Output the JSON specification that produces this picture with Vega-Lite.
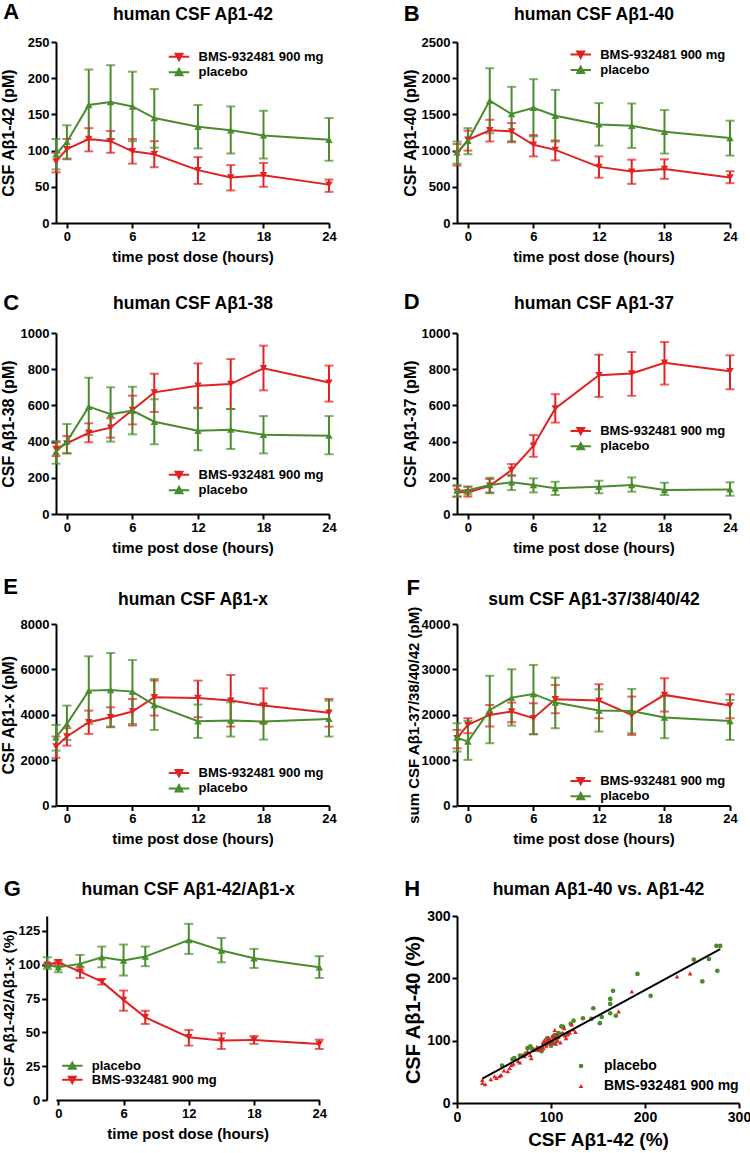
{
"$schema": "https://vega.github.io/schema/vega-lite/v6.json",
"padding": {"left": 0, "top": 0, "right": 5, "bottom": 5},
"background": "white",
"datasets": {
"ts": [
{"p":"A","g":"BMS-932481 900 mg","t":-1,"m":85,"lo":70,"hi":97},
{"p":"A","g":"BMS-932481 900 mg","t":0,"m":102,"lo":88,"hi":116},
{"p":"A","g":"BMS-932481 900 mg","t":2,"m":116,"lo":99,"hi":131},
{"p":"A","g":"BMS-932481 900 mg","t":4,"m":113,"lo":97,"hi":127},
{"p":"A","g":"BMS-932481 900 mg","t":6,"m":99,"lo":82,"hi":116},
{"p":"A","g":"BMS-932481 900 mg","t":8,"m":95,"lo":77,"hi":113},
{"p":"A","g":"BMS-932481 900 mg","t":12,"m":73,"lo":54,"hi":91},
{"p":"A","g":"BMS-932481 900 mg","t":15,"m":63,"lo":45,"hi":80},
{"p":"A","g":"BMS-932481 900 mg","t":18,"m":66,"lo":50,"hi":83},
{"p":"A","g":"BMS-932481 900 mg","t":24,"m":53,"lo":43,"hi":60},
{"p":"A","g":"placebo","t":-1,"m":95,"lo":74,"hi":116},
{"p":"A","g":"placebo","t":0,"m":112,"lo":89,"hi":135},
{"p":"A","g":"placebo","t":2,"m":163,"lo":115,"hi":212},
{"p":"A","g":"placebo","t":4,"m":167,"lo":116,"hi":218},
{"p":"A","g":"placebo","t":6,"m":161,"lo":113,"hi":209},
{"p":"A","g":"placebo","t":8,"m":145,"lo":104,"hi":185},
{"p":"A","g":"placebo","t":12,"m":133,"lo":103,"hi":163},
{"p":"A","g":"placebo","t":15,"m":128,"lo":96,"hi":161},
{"p":"A","g":"placebo","t":18,"m":121,"lo":89,"hi":155},
{"p":"A","g":"placebo","t":24,"m":115,"lo":86,"hi":145},
{"p":"B","g":"BMS-932481 900 mg","t":-1,"m":955,"lo":795,"hi":1090},
{"p":"B","g":"BMS-932481 900 mg","t":0,"m":1150,"lo":1000,"hi":1275},
{"p":"B","g":"BMS-932481 900 mg","t":2,"m":1280,"lo":1125,"hi":1425},
{"p":"B","g":"BMS-932481 900 mg","t":4,"m":1265,"lo":1115,"hi":1380},
{"p":"B","g":"BMS-932481 900 mg","t":6,"m":1080,"lo":920,"hi":1215},
{"p":"B","g":"BMS-932481 900 mg","t":8,"m":1010,"lo":865,"hi":1140},
{"p":"B","g":"BMS-932481 900 mg","t":12,"m":775,"lo":625,"hi":920},
{"p":"B","g":"BMS-932481 900 mg","t":15,"m":710,"lo":540,"hi":875},
{"p":"B","g":"BMS-932481 900 mg","t":18,"m":745,"lo":610,"hi":880},
{"p":"B","g":"BMS-932481 900 mg","t":24,"m":630,"lo":550,"hi":715},
{"p":"B","g":"placebo","t":-1,"m":975,"lo":820,"hi":1125},
{"p":"B","g":"placebo","t":0,"m":1135,"lo":950,"hi":1310},
{"p":"B","g":"placebo","t":2,"m":1690,"lo":1240,"hi":2138},
{"p":"B","g":"placebo","t":4,"m":1505,"lo":1130,"hi":1881},
{"p":"B","g":"placebo","t":6,"m":1592,"lo":1195,"hi":1986},
{"p":"B","g":"placebo","t":8,"m":1482,"lo":1125,"hi":1839},
{"p":"B","g":"placebo","t":12,"m":1362,"lo":1069,"hi":1656},
{"p":"B","g":"placebo","t":15,"m":1344,"lo":1037,"hi":1651},
{"p":"B","g":"placebo","t":18,"m":1261,"lo":959,"hi":1560},
{"p":"B","g":"placebo","t":24,"m":1174,"lo":931,"hi":1413},
{"p":"C","g":"BMS-932481 900 mg","t":-1,"m":360,"lo":320,"hi":396},
{"p":"C","g":"BMS-932481 900 mg","t":0,"m":390,"lo":335,"hi":431},
{"p":"C","g":"BMS-932481 900 mg","t":2,"m":449,"lo":396,"hi":501},
{"p":"C","g":"BMS-932481 900 mg","t":4,"m":477,"lo":422,"hi":529},
{"p":"C","g":"BMS-932481 900 mg","t":6,"m":575,"lo":495,"hi":654},
{"p":"C","g":"BMS-932481 900 mg","t":8,"m":672,"lo":564,"hi":775},
{"p":"C","g":"BMS-932481 900 mg","t":12,"m":709,"lo":587,"hi":832},
{"p":"C","g":"BMS-932481 900 mg","t":15,"m":718,"lo":580,"hi":856},
{"p":"C","g":"BMS-932481 900 mg","t":18,"m":805,"lo":683,"hi":930},
{"p":"C","g":"BMS-932481 900 mg","t":24,"m":726,"lo":621,"hi":820},
{"p":"C","g":"placebo","t":-1,"m":344,"lo":278,"hi":403},
{"p":"C","g":"placebo","t":0,"m":400,"lo":335,"hi":497},
{"p":"C","g":"placebo","t":2,"m":593,"lo":436,"hi":753},
{"p":"C","g":"placebo","t":4,"m":551,"lo":400,"hi":700},
{"p":"C","g":"placebo","t":6,"m":571,"lo":440,"hi":703},
{"p":"C","g":"placebo","t":8,"m":510,"lo":385,"hi":634},
{"p":"C","g":"placebo","t":12,"m":460,"lo":352,"hi":584},
{"p":"C","g":"placebo","t":15,"m":466,"lo":359,"hi":580},
{"p":"C","g":"placebo","t":18,"m":438,"lo":335,"hi":541},
{"p":"C","g":"placebo","t":24,"m":433,"lo":330,"hi":541},
{"p":"D","g":"BMS-932481 900 mg","t":-1,"m":123,"lo":96,"hi":154},
{"p":"D","g":"BMS-932481 900 mg","t":0,"m":119,"lo":96,"hi":151},
{"p":"D","g":"BMS-932481 900 mg","t":2,"m":156,"lo":119,"hi":193},
{"p":"D","g":"BMS-932481 900 mg","t":4,"m":243,"lo":211,"hi":276},
{"p":"D","g":"BMS-932481 900 mg","t":6,"m":377,"lo":316,"hi":436},
{"p":"D","g":"BMS-932481 900 mg","t":8,"m":583,"lo":505,"hi":662},
{"p":"D","g":"BMS-932481 900 mg","t":12,"m":767,"lo":647,"hi":880},
{"p":"D","g":"BMS-932481 900 mg","t":15,"m":776,"lo":653,"hi":895},
{"p":"D","g":"BMS-932481 900 mg","t":18,"m":836,"lo":715,"hi":950},
{"p":"D","g":"BMS-932481 900 mg","t":24,"m":789,"lo":689,"hi":877},
{"p":"D","g":"placebo","t":-1,"m":129,"lo":96,"hi":160},
{"p":"D","g":"placebo","t":0,"m":131,"lo":108,"hi":151},
{"p":"D","g":"placebo","t":2,"m":160,"lo":114,"hi":200},
{"p":"D","g":"placebo","t":4,"m":175,"lo":132,"hi":215},
{"p":"D","g":"placebo","t":6,"m":160,"lo":119,"hi":197},
{"p":"D","g":"placebo","t":8,"m":142,"lo":105,"hi":178},
{"p":"D","g":"placebo","t":12,"m":151,"lo":114,"hi":184},
{"p":"D","g":"placebo","t":15,"m":160,"lo":123,"hi":202},
{"p":"D","g":"placebo","t":18,"m":132,"lo":105,"hi":173},
{"p":"D","g":"placebo","t":24,"m":136,"lo":101,"hi":175},
{"p":"E","g":"BMS-932481 900 mg","t":-1,"m":2600,"lo":2100,"hi":3040},
{"p":"E","g":"BMS-932481 900 mg","t":0,"m":3040,"lo":2640,"hi":3405},
{"p":"E","g":"BMS-932481 900 mg","t":2,"m":3670,"lo":3156,"hi":4183},
{"p":"E","g":"BMS-932481 900 mg","t":4,"m":3890,"lo":3450,"hi":4330},
{"p":"E","g":"BMS-932481 900 mg","t":6,"m":4140,"lo":3523,"hi":4697},
{"p":"E","g":"BMS-932481 900 mg","t":8,"m":4771,"lo":3963,"hi":5505},
{"p":"E","g":"BMS-932481 900 mg","t":12,"m":4741,"lo":3890,"hi":5505},
{"p":"E","g":"BMS-932481 900 mg","t":15,"m":4624,"lo":3479,"hi":5754},
{"p":"E","g":"BMS-932481 900 mg","t":18,"m":4404,"lo":3640,"hi":5167},
{"p":"E","g":"BMS-932481 900 mg","t":24,"m":4090,"lo":3479,"hi":4697},
{"p":"E","g":"placebo","t":-1,"m":3009,"lo":2420,"hi":3552},
{"p":"E","g":"placebo","t":0,"m":3596,"lo":2892,"hi":4404},
{"p":"E","g":"placebo","t":2,"m":5064,"lo":3596,"hi":6576},
{"p":"E","g":"placebo","t":4,"m":5094,"lo":3479,"hi":6723},
{"p":"E","g":"placebo","t":6,"m":5020,"lo":3596,"hi":6415},
{"p":"E","g":"placebo","t":8,"m":4433,"lo":3332,"hi":5578},
{"p":"E","g":"placebo","t":12,"m":3714,"lo":2980,"hi":4448},
{"p":"E","g":"placebo","t":15,"m":3743,"lo":3039,"hi":4550},
{"p":"E","g":"placebo","t":18,"m":3699,"lo":2906,"hi":4477},
{"p":"E","g":"placebo","t":24,"m":3817,"lo":3039,"hi":4624},
{"p":"F","g":"BMS-932481 900 mg","t":-1,"m":1483,"lo":1262,"hi":1666},
{"p":"F","g":"BMS-932481 900 mg","t":0,"m":1776,"lo":1593,"hi":1923},
{"p":"F","g":"BMS-932481 900 mg","t":2,"m":1996,"lo":1739,"hi":2217},
{"p":"F","g":"BMS-932481 900 mg","t":4,"m":2070,"lo":1835,"hi":2268},
{"p":"F","g":"BMS-932481 900 mg","t":6,"m":1923,"lo":1571,"hi":2253},
{"p":"F","g":"BMS-932481 900 mg","t":8,"m":2341,"lo":2033,"hi":2657},
{"p":"F","g":"BMS-932481 900 mg","t":12,"m":2312,"lo":1923,"hi":2672},
{"p":"F","g":"BMS-932481 900 mg","t":15,"m":1996,"lo":1556,"hi":2400},
{"p":"F","g":"BMS-932481 900 mg","t":18,"m":2437,"lo":2070,"hi":2804},
{"p":"F","g":"BMS-932481 900 mg","t":24,"m":2202,"lo":1923,"hi":2451},
{"p":"F","g":"placebo","t":-1,"m":1497,"lo":1189,"hi":1813},
{"p":"F","g":"placebo","t":0,"m":1409,"lo":1006,"hi":1864},
{"p":"F","g":"placebo","t":2,"m":2106,"lo":1372,"hi":2862},
{"p":"F","g":"placebo","t":4,"m":2378,"lo":1761,"hi":3002},
{"p":"F","g":"placebo","t":6,"m":2459,"lo":1571,"hi":3097},
{"p":"F","g":"placebo","t":8,"m":2268,"lo":1703,"hi":2818},
{"p":"F","g":"placebo","t":12,"m":2092,"lo":1629,"hi":2561},
{"p":"F","g":"placebo","t":15,"m":2084,"lo":1593,"hi":2569},
{"p":"F","g":"placebo","t":18,"m":1938,"lo":1483,"hi":2422},
{"p":"F","g":"placebo","t":24,"m":1864,"lo":1446,"hi":2327},
{"p":"G","g":"BMS-932481 900 mg","t":-1,"m":100,"lo":99,"hi":101},
{"p":"G","g":"BMS-932481 900 mg","t":0,"m":101.8,"lo":99.8,"hi":103.5},
{"p":"G","g":"BMS-932481 900 mg","t":2,"m":94.9,"lo":90.2,"hi":98.1},
{"p":"G","g":"BMS-932481 900 mg","t":4,"m":87.5,"lo":85.3,"hi":89.5},
{"p":"G","g":"BMS-932481 900 mg","t":6,"m":74,"lo":66,"hi":80.9},
{"p":"G","g":"BMS-932481 900 mg","t":8,"m":61.1,"lo":56.2,"hi":66},
{"p":"G","g":"BMS-932481 900 mg","t":12,"m":46.4,"lo":40.2,"hi":51.8},
{"p":"G","g":"BMS-932481 900 mg","t":15,"m":43.9,"lo":37.7,"hi":49.3},
{"p":"G","g":"BMS-932481 900 mg","t":18,"m":44.4,"lo":41.5,"hi":47.3},
{"p":"G","g":"BMS-932481 900 mg","t":24,"m":41.4,"lo":37.7,"hi":44.6},
{"p":"G","g":"placebo","t":-1,"m":100,"lo":96.9,"hi":105.5},
{"p":"G","g":"placebo","t":0,"m":98.1,"lo":94.4,"hi":101.8},
{"p":"G","g":"placebo","t":2,"m":100.6,"lo":95.2,"hi":107.2},
{"p":"G","g":"placebo","t":4,"m":105.5,"lo":98.1,"hi":113.4},
{"p":"G","g":"placebo","t":6,"m":103.1,"lo":92,"hi":114.9},
{"p":"G","g":"placebo","t":8,"m":106,"lo":98.9,"hi":113.4},
{"p":"G","g":"placebo","t":12,"m":118.3,"lo":108,"hi":130.2},
{"p":"G","g":"placebo","t":15,"m":110.5,"lo":101.8,"hi":119.8},
{"p":"G","g":"placebo","t":18,"m":104.8,"lo":97.6,"hi":111.7},
{"p":"G","g":"placebo","t":24,"m":98.1,"lo":90.2,"hi":106.3}
],
"h": [
{"g":"placebo","x":48,"y":60},{"g":"placebo","x":59,"y":70},{"g":"placebo","x":61,"y":72},{"g":"placebo","x":67,"y":76},{"g":"placebo","x":73,"y":79},{"g":"placebo","x":75,"y":88},{"g":"placebo","x":78,"y":91},{"g":"placebo","x":80,"y":87},{"g":"placebo","x":86,"y":85},{"g":"placebo","x":88,"y":88},{"g":"placebo","x":90,"y":83},{"g":"placebo","x":92,"y":95},{"g":"placebo","x":95,"y":95},{"g":"placebo","x":96,"y":104},{"g":"placebo","x":98,"y":100},{"g":"placebo","x":100,"y":92},{"g":"placebo","x":102,"y":106},{"g":"placebo","x":104,"y":109},{"g":"placebo","x":104,"y":96},{"g":"placebo","x":106,"y":103},{"g":"placebo","x":108,"y":112},{"g":"placebo","x":111,"y":123},{"g":"placebo","x":112,"y":111},{"g":"placebo","x":113,"y":122},{"g":"placebo","x":118,"y":112},{"g":"placebo","x":121,"y":127},{"g":"placebo","x":124,"y":132},{"g":"placebo","x":134,"y":136},{"g":"placebo","x":143,"y":135},{"g":"placebo","x":145,"y":152},{"g":"placebo","x":152,"y":128},{"g":"placebo","x":154,"y":138},{"g":"placebo","x":163,"y":144},{"g":"placebo","x":163,"y":159},{"g":"placebo","x":163,"y":167},{"g":"placebo","x":166,"y":180},{"g":"placebo","x":169,"y":140},{"g":"placebo","x":192,"y":207},{"g":"placebo","x":206,"y":172},{"g":"placebo","x":252,"y":230},{"g":"placebo","x":261,"y":195},{"g":"placebo","x":268,"y":231},{"g":"placebo","x":277,"y":212},{"g":"placebo","x":276,"y":252},{"g":"placebo","x":280,"y":252},
{"g":"BMS-932481 900 mg","x":27,"y":32},{"g":"BMS-932481 900 mg","x":30,"y":30},{"g":"BMS-932481 900 mg","x":27,"y":37},{"g":"BMS-932481 900 mg","x":36,"y":38},{"g":"BMS-932481 900 mg","x":40,"y":43},{"g":"BMS-932481 900 mg","x":42,"y":40},{"g":"BMS-932481 900 mg","x":45,"y":43},{"g":"BMS-932481 900 mg","x":47,"y":45},{"g":"BMS-932481 900 mg","x":50,"y":52},{"g":"BMS-932481 900 mg","x":54,"y":51},{"g":"BMS-932481 900 mg","x":56,"y":56},{"g":"BMS-932481 900 mg","x":58,"y":61},{"g":"BMS-932481 900 mg","x":60,"y":63},{"g":"BMS-932481 900 mg","x":65,"y":67},{"g":"BMS-932481 900 mg","x":67,"y":65},{"g":"BMS-932481 900 mg","x":70,"y":77},{"g":"BMS-932481 900 mg","x":72,"y":75},{"g":"BMS-932481 900 mg","x":75,"y":83},{"g":"BMS-932481 900 mg","x":78,"y":77},{"g":"BMS-932481 900 mg","x":79,"y":72},{"g":"BMS-932481 900 mg","x":82,"y":85},{"g":"BMS-932481 900 mg","x":85,"y":90},{"g":"BMS-932481 900 mg","x":88,"y":86},{"g":"BMS-932481 900 mg","x":90,"y":90},{"g":"BMS-932481 900 mg","x":92,"y":88},{"g":"BMS-932481 900 mg","x":92,"y":97},{"g":"BMS-932481 900 mg","x":93,"y":101},{"g":"BMS-932481 900 mg","x":94,"y":95},{"g":"BMS-932481 900 mg","x":95,"y":92},{"g":"BMS-932481 900 mg","x":96,"y":98},{"g":"BMS-932481 900 mg","x":97,"y":103},{"g":"BMS-932481 900 mg","x":98,"y":104},{"g":"BMS-932481 900 mg","x":99,"y":96},{"g":"BMS-932481 900 mg","x":100,"y":100},{"g":"BMS-932481 900 mg","x":101,"y":98},{"g":"BMS-932481 900 mg","x":102,"y":108},{"g":"BMS-932481 900 mg","x":104,"y":117},{"g":"BMS-932481 900 mg","x":104,"y":104},{"g":"BMS-932481 900 mg","x":105,"y":95},{"g":"BMS-932481 900 mg","x":106,"y":110},{"g":"BMS-932481 900 mg","x":107,"y":100},{"g":"BMS-932481 900 mg","x":108,"y":106},{"g":"BMS-932481 900 mg","x":110,"y":97},{"g":"BMS-932481 900 mg","x":112,"y":112},{"g":"BMS-932481 900 mg","x":114,"y":120},{"g":"BMS-932481 900 mg","x":115,"y":108},{"g":"BMS-932481 900 mg","x":116,"y":104},{"g":"BMS-932481 900 mg","x":118,"y":110},{"g":"BMS-932481 900 mg","x":120,"y":113},{"g":"BMS-932481 900 mg","x":122,"y":126},{"g":"BMS-932481 900 mg","x":124,"y":118},{"g":"BMS-932481 900 mg","x":126,"y":114},{"g":"BMS-932481 900 mg","x":172,"y":147},{"g":"BMS-932481 900 mg","x":186,"y":179},{"g":"BMS-932481 900 mg","x":234,"y":203},{"g":"BMS-932481 900 mg","x":248,"y":208}
],
"hl": [{"x":27,"y":39,"x2":280,"y2":247}]
},
"columns": 2,
"spacing": {"row": 110, "column": 128},
"bounds": "flush",
"concat": [
{
"width": 273, "height": 181,
"data": {"name": "ts"},
"transform": [{"filter": "datum.p == 'A'"}],
"encoding": {
"x": {"field": "t", "type": "quantitative", "scale": {"domain": [-1, 24], "nice": false}, "axis": {"values": [0, 6, 12, 18, 24], "title": "time post dose (hours)", "titleY": 33, "titleBaseline": "middle"}},
"color": {"field": "g", "type": "nominal", "scale": {"domain": ["BMS-932481 900 mg", "placebo"], "range": ["#e02222", "#4a8b2c"]},
"legend": {"orient": "none", "legendX": 116, "legendY": 7.8, "title": null, "symbolSize": 144, "symbolStrokeWidth": 2, "labelOffset": 12.5, "rowPadding": -0.6,
"encoding": {"symbols": {"shape": {"value": {"expr": "datum.value == 'placebo' ? 'M-1.7,0H1.7M-0.57,0.5H0.57L0,-0.55Z' : 'M-1.7,0H1.7M-0.57,-0.5H0.57L0,0.55Z'"}}, "fill": {"value": {"expr": "datum.value == 'placebo' ? '#4a8b2c' : '#e02222'"}}, "stroke": {"value": {"expr": "datum.value == 'placebo' ? '#4a8b2c' : '#e02222'"}}, "strokeWidth": {"value": 2}, "opacity": {"value": 1}}}}
}
},
"layer": [
{"layer": [
{"mark": {"type": "rule", "strokeWidth": 2}, "encoding": {"y": {"field": "lo", "type": "quantitative", "scale": {"domain": [0, 250], "nice": false}, "axis": {"values": [0, 50, 100, 150, 200, 250], "format": "d", "title": "CSF Aβ1-42 (pM)", "titleX": -48, "titleBaseline": "middle", "titleFontSize": 16}}, "y2": {"field": "hi"}}},
{"mark": {"type": "tick", "orient": "horizontal", "size": 9, "thickness": 2}, "encoding": {"y": {"field": "lo", "type": "quantitative", "scale": {"domain": [0, 250], "nice": false}, "axis": {"values": [0, 50, 100, 150, 200, 250], "format": "d", "title": "CSF Aβ1-42 (pM)", "titleX": -48, "titleBaseline": "middle", "titleFontSize": 16}}}},
{"mark": {"type": "tick", "orient": "horizontal", "size": 9, "thickness": 2}, "encoding": {"y": {"field": "hi", "type": "quantitative", "scale": {"domain": [0, 250], "nice": false}, "axis": {"values": [0, 50, 100, 150, 200, 250], "format": "d", "title": "CSF Aβ1-42 (pM)", "titleX": -48, "titleBaseline": "middle", "titleFontSize": 16}}}},
{"mark": {"type": "line", "strokeWidth": 2}, "encoding": {"y": {"field": "m", "type": "quantitative", "scale": {"domain": [0, 250], "nice": false}, "axis": {"values": [0, 50, 100, 150, 200, 250], "format": "d", "title": "CSF Aβ1-42 (pM)", "titleX": -48, "titleBaseline": "middle", "titleFontSize": 16}}}}
]},
{"mark": {"type": "point", "filled": true, "size": 55, "opacity": 1},
"encoding": {
"x": {"field": "t", "type": "quantitative", "scale": {"domain": [-1, 24], "nice": false}, "axis": {"orient": "top", "title": "human CSF Aβ1-42", "labels": false, "ticks": false, "domain": false, "titleY": -22.7, "titleBaseline": "alphabetic", "titleFontSize": 17.5}},
"y": {"field": "m", "type": "quantitative", "scale": {"domain": [0, 250], "nice": false}, "axis": {"orient": "left", "title": "A", "labels": false, "ticks": false, "domain": false, "titleAngle": 0, "titleX": -53.3, "titleY": -24, "titleAlign": "left", "titleBaseline": "alphabetic", "titleFontSize": 22}},
"shape": {"condition": {"test": "datum.g == 'placebo'", "value": "triangle-up"}, "value": "triangle-down"}
}}
],
"resolve": {"axis": {"x": "independent", "y": "independent"}}
},
{
"width": 273, "height": 181,
"data": {"name": "ts"},
"transform": [{"filter": "datum.p == 'B'"}],
"encoding": {
"x": {"field": "t", "type": "quantitative", "scale": {"domain": [-1, 24], "nice": false}, "axis": {"values": [0, 6, 12, 18, 24], "title": "time post dose (hours)", "titleY": 33, "titleBaseline": "middle"}},
"color": {"field": "g", "type": "nominal", "scale": {"domain": ["BMS-932481 900 mg", "placebo"], "range": ["#e02222", "#4a8b2c"]},
"legend": {"orient": "none", "legendX": 116.7, "legendY": 5.5, "title": null, "symbolSize": 144, "symbolStrokeWidth": 2, "labelOffset": 12.5, "rowPadding": -0.6,
"encoding": {"symbols": {"shape": {"value": {"expr": "datum.value == 'placebo' ? 'M-1.7,0H1.7M-0.57,0.5H0.57L0,-0.55Z' : 'M-1.7,0H1.7M-0.57,-0.5H0.57L0,0.55Z'"}}, "fill": {"value": {"expr": "datum.value == 'placebo' ? '#4a8b2c' : '#e02222'"}}, "stroke": {"value": {"expr": "datum.value == 'placebo' ? '#4a8b2c' : '#e02222'"}}, "strokeWidth": {"value": 2}, "opacity": {"value": 1}}}}
}
},
"layer": [
{"layer": [
{"mark": {"type": "rule", "strokeWidth": 2}, "encoding": {"y": {"field": "lo", "type": "quantitative", "scale": {"domain": [0, 2500], "nice": false}, "axis": {"values": [0, 500, 1000, 1500, 2000, 2500], "format": "d", "title": "CSF Aβ1-40 (pM)", "titleX": -47, "titleBaseline": "middle", "titleFontSize": 16}}, "y2": {"field": "hi"}}},
{"mark": {"type": "tick", "orient": "horizontal", "size": 9, "thickness": 2}, "encoding": {"y": {"field": "lo", "type": "quantitative", "scale": {"domain": [0, 2500], "nice": false}, "axis": {"values": [0, 500, 1000, 1500, 2000, 2500], "format": "d", "title": "CSF Aβ1-40 (pM)", "titleX": -47, "titleBaseline": "middle", "titleFontSize": 16}}}},
{"mark": {"type": "tick", "orient": "horizontal", "size": 9, "thickness": 2}, "encoding": {"y": {"field": "hi", "type": "quantitative", "scale": {"domain": [0, 2500], "nice": false}, "axis": {"values": [0, 500, 1000, 1500, 2000, 2500], "format": "d", "title": "CSF Aβ1-40 (pM)", "titleX": -47, "titleBaseline": "middle", "titleFontSize": 16}}}},
{"mark": {"type": "line", "strokeWidth": 2}, "encoding": {"y": {"field": "m", "type": "quantitative", "scale": {"domain": [0, 2500], "nice": false}, "axis": {"values": [0, 500, 1000, 1500, 2000, 2500], "format": "d", "title": "CSF Aβ1-40 (pM)", "titleX": -47, "titleBaseline": "middle", "titleFontSize": 16}}}}
]},
{"mark": {"type": "point", "filled": true, "size": 55, "opacity": 1},
"encoding": {
"x": {"field": "t", "type": "quantitative", "scale": {"domain": [-1, 24], "nice": false}, "axis": {"orient": "top", "title": "human CSF Aβ1-40", "labels": false, "ticks": false, "domain": false, "titleY": -22.7, "titleBaseline": "alphabetic", "titleFontSize": 17.5}},
"y": {"field": "m", "type": "quantitative", "scale": {"domain": [0, 2500], "nice": false}, "axis": {"orient": "left", "title": "B", "labels": false, "ticks": false, "domain": false, "titleAngle": 0, "titleX": -53.7, "titleY": -22, "titleAlign": "left", "titleBaseline": "alphabetic", "titleFontSize": 22}},
"shape": {"condition": {"test": "datum.g == 'placebo'", "value": "triangle-up"}, "value": "triangle-down"}
}}
],
"resolve": {"axis": {"x": "independent", "y": "independent"}}
},
{
"width": 273, "height": 181,
"data": {"name": "ts"},
"transform": [{"filter": "datum.p == 'C'"}],
"encoding": {
"x": {"field": "t", "type": "quantitative", "scale": {"domain": [-1, 24], "nice": false}, "axis": {"values": [0, 6, 12, 18, 24], "title": "time post dose (hours)", "titleY": 33, "titleBaseline": "middle"}},
"color": {"field": "g", "type": "nominal", "scale": {"domain": ["BMS-932481 900 mg", "placebo"], "range": ["#e02222", "#4a8b2c"]},
"legend": {"orient": "none", "legendX": 116, "legendY": 134.8, "title": null, "symbolSize": 144, "symbolStrokeWidth": 2, "labelOffset": 12.5, "rowPadding": -0.6,
"encoding": {"symbols": {"shape": {"value": {"expr": "datum.value == 'placebo' ? 'M-1.7,0H1.7M-0.57,0.5H0.57L0,-0.55Z' : 'M-1.7,0H1.7M-0.57,-0.5H0.57L0,0.55Z'"}}, "fill": {"value": {"expr": "datum.value == 'placebo' ? '#4a8b2c' : '#e02222'"}}, "stroke": {"value": {"expr": "datum.value == 'placebo' ? '#4a8b2c' : '#e02222'"}}, "strokeWidth": {"value": 2}, "opacity": {"value": 1}}}}
}
},
"layer": [
{"layer": [
{"mark": {"type": "rule", "strokeWidth": 2}, "encoding": {"y": {"field": "lo", "type": "quantitative", "scale": {"domain": [0, 1000], "nice": false}, "axis": {"values": [0, 200, 400, 600, 800, 1000], "format": "d", "title": "CSF Aβ1-38 (pM)", "titleX": -48, "titleBaseline": "middle", "titleFontSize": 16}}, "y2": {"field": "hi"}}},
{"mark": {"type": "tick", "orient": "horizontal", "size": 9, "thickness": 2}, "encoding": {"y": {"field": "lo", "type": "quantitative", "scale": {"domain": [0, 1000], "nice": false}, "axis": {"values": [0, 200, 400, 600, 800, 1000], "format": "d", "title": "CSF Aβ1-38 (pM)", "titleX": -48, "titleBaseline": "middle", "titleFontSize": 16}}}},
{"mark": {"type": "tick", "orient": "horizontal", "size": 9, "thickness": 2}, "encoding": {"y": {"field": "hi", "type": "quantitative", "scale": {"domain": [0, 1000], "nice": false}, "axis": {"values": [0, 200, 400, 600, 800, 1000], "format": "d", "title": "CSF Aβ1-38 (pM)", "titleX": -48, "titleBaseline": "middle", "titleFontSize": 16}}}},
{"mark": {"type": "line", "strokeWidth": 2}, "encoding": {"y": {"field": "m", "type": "quantitative", "scale": {"domain": [0, 1000], "nice": false}, "axis": {"values": [0, 200, 400, 600, 800, 1000], "format": "d", "title": "CSF Aβ1-38 (pM)", "titleX": -48, "titleBaseline": "middle", "titleFontSize": 16}}}}
]},
{"mark": {"type": "point", "filled": true, "size": 55, "opacity": 1},
"encoding": {
"x": {"field": "t", "type": "quantitative", "scale": {"domain": [-1, 24], "nice": false}, "axis": {"orient": "top", "title": "human CSF Aβ1-38", "labels": false, "ticks": false, "domain": false, "titleY": -24.4, "titleBaseline": "alphabetic", "titleFontSize": 17.5}},
"y": {"field": "m", "type": "quantitative", "scale": {"domain": [0, 1000], "nice": false}, "axis": {"orient": "left", "title": "C", "labels": false, "ticks": false, "domain": false, "titleAngle": 0, "titleX": -53.3, "titleY": -23.7, "titleAlign": "left", "titleBaseline": "alphabetic", "titleFontSize": 22}},
"shape": {"condition": {"test": "datum.g == 'placebo'", "value": "triangle-up"}, "value": "triangle-down"}
}}
],
"resolve": {"axis": {"x": "independent", "y": "independent"}}
},
{
"width": 273, "height": 181,
"data": {"name": "ts"},
"transform": [{"filter": "datum.p == 'D'"}],
"encoding": {
"x": {"field": "t", "type": "quantitative", "scale": {"domain": [-1, 24], "nice": false}, "axis": {"values": [0, 6, 12, 18, 24], "title": "time post dose (hours)", "titleY": 33, "titleBaseline": "middle"}},
"color": {"field": "g", "type": "nominal", "scale": {"domain": ["BMS-932481 900 mg", "placebo"], "range": ["#e02222", "#4a8b2c"]},
"legend": {"orient": "none", "legendX": 116.7, "legendY": 90.9, "title": null, "symbolSize": 144, "symbolStrokeWidth": 2, "labelOffset": 12.5, "rowPadding": -0.6,
"encoding": {"symbols": {"shape": {"value": {"expr": "datum.value == 'placebo' ? 'M-1.7,0H1.7M-0.57,0.5H0.57L0,-0.55Z' : 'M-1.7,0H1.7M-0.57,-0.5H0.57L0,0.55Z'"}}, "fill": {"value": {"expr": "datum.value == 'placebo' ? '#4a8b2c' : '#e02222'"}}, "stroke": {"value": {"expr": "datum.value == 'placebo' ? '#4a8b2c' : '#e02222'"}}, "strokeWidth": {"value": 2}, "opacity": {"value": 1}}}}
}
},
"layer": [
{"layer": [
{"mark": {"type": "rule", "strokeWidth": 2}, "encoding": {"y": {"field": "lo", "type": "quantitative", "scale": {"domain": [0, 1000], "nice": false}, "axis": {"values": [0, 200, 400, 600, 800, 1000], "format": "d", "title": "CSF Aβ1-37 (pM)", "titleX": -47, "titleBaseline": "middle", "titleFontSize": 16}}, "y2": {"field": "hi"}}},
{"mark": {"type": "tick", "orient": "horizontal", "size": 9, "thickness": 2}, "encoding": {"y": {"field": "lo", "type": "quantitative", "scale": {"domain": [0, 1000], "nice": false}, "axis": {"values": [0, 200, 400, 600, 800, 1000], "format": "d", "title": "CSF Aβ1-37 (pM)", "titleX": -47, "titleBaseline": "middle", "titleFontSize": 16}}}},
{"mark": {"type": "tick", "orient": "horizontal", "size": 9, "thickness": 2}, "encoding": {"y": {"field": "hi", "type": "quantitative", "scale": {"domain": [0, 1000], "nice": false}, "axis": {"values": [0, 200, 400, 600, 800, 1000], "format": "d", "title": "CSF Aβ1-37 (pM)", "titleX": -47, "titleBaseline": "middle", "titleFontSize": 16}}}},
{"mark": {"type": "line", "strokeWidth": 2}, "encoding": {"y": {"field": "m", "type": "quantitative", "scale": {"domain": [0, 1000], "nice": false}, "axis": {"values": [0, 200, 400, 600, 800, 1000], "format": "d", "title": "CSF Aβ1-37 (pM)", "titleX": -47, "titleBaseline": "middle", "titleFontSize": 16}}}}
]},
{"mark": {"type": "point", "filled": true, "size": 55, "opacity": 1},
"encoding": {
"x": {"field": "t", "type": "quantitative", "scale": {"domain": [-1, 24], "nice": false}, "axis": {"orient": "top", "title": "human CSF Aβ1-37", "labels": false, "ticks": false, "domain": false, "titleY": -24.4, "titleBaseline": "alphabetic", "titleFontSize": 17.5}},
"y": {"field": "m", "type": "quantitative", "scale": {"domain": [0, 1000], "nice": false}, "axis": {"orient": "left", "title": "D", "labels": false, "ticks": false, "domain": false, "titleAngle": 0, "titleX": -53.7, "titleY": -24.4, "titleAlign": "left", "titleBaseline": "alphabetic", "titleFontSize": 22}},
"shape": {"condition": {"test": "datum.g == 'placebo'", "value": "triangle-up"}, "value": "triangle-down"}
}}
],
"resolve": {"axis": {"x": "independent", "y": "independent"}}
},
{
"width": 273, "height": 181.5,
"data": {"name": "ts"},
"transform": [{"filter": "datum.p == 'E'"}],
"encoding": {
"x": {"field": "t", "type": "quantitative", "scale": {"domain": [-1, 24], "nice": false}, "axis": {"values": [0, 6, 12, 18, 24], "title": "time post dose (hours)", "titleY": 33, "titleBaseline": "middle"}},
"color": {"field": "g", "type": "nominal", "scale": {"domain": ["BMS-932481 900 mg", "placebo"], "range": ["#e02222", "#4a8b2c"]},
"legend": {"orient": "none", "legendX": 116, "legendY": 142, "title": null, "symbolSize": 144, "symbolStrokeWidth": 2, "labelOffset": 12.5, "rowPadding": -0.6,
"encoding": {"symbols": {"shape": {"value": {"expr": "datum.value == 'placebo' ? 'M-1.7,0H1.7M-0.57,0.5H0.57L0,-0.55Z' : 'M-1.7,0H1.7M-0.57,-0.5H0.57L0,0.55Z'"}}, "fill": {"value": {"expr": "datum.value == 'placebo' ? '#4a8b2c' : '#e02222'"}}, "stroke": {"value": {"expr": "datum.value == 'placebo' ? '#4a8b2c' : '#e02222'"}}, "strokeWidth": {"value": 2}, "opacity": {"value": 1}}}}
}
},
"layer": [
{"layer": [
{"mark": {"type": "rule", "strokeWidth": 2}, "encoding": {"y": {"field": "lo", "type": "quantitative", "scale": {"domain": [0, 8000], "nice": false}, "axis": {"values": [0, 2000, 4000, 6000, 8000], "format": "d", "title": "CSF Aβ1-x (pM)", "titleX": -48, "titleBaseline": "middle", "titleFontSize": 16}}, "y2": {"field": "hi"}}},
{"mark": {"type": "tick", "orient": "horizontal", "size": 9, "thickness": 2}, "encoding": {"y": {"field": "lo", "type": "quantitative", "scale": {"domain": [0, 8000], "nice": false}, "axis": {"values": [0, 2000, 4000, 6000, 8000], "format": "d", "title": "CSF Aβ1-x (pM)", "titleX": -48, "titleBaseline": "middle", "titleFontSize": 16}}}},
{"mark": {"type": "tick", "orient": "horizontal", "size": 9, "thickness": 2}, "encoding": {"y": {"field": "hi", "type": "quantitative", "scale": {"domain": [0, 8000], "nice": false}, "axis": {"values": [0, 2000, 4000, 6000, 8000], "format": "d", "title": "CSF Aβ1-x (pM)", "titleX": -48, "titleBaseline": "middle", "titleFontSize": 16}}}},
{"mark": {"type": "line", "strokeWidth": 2}, "encoding": {"y": {"field": "m", "type": "quantitative", "scale": {"domain": [0, 8000], "nice": false}, "axis": {"values": [0, 2000, 4000, 6000, 8000], "format": "d", "title": "CSF Aβ1-x (pM)", "titleX": -48, "titleBaseline": "middle", "titleFontSize": 16}}}}
]},
{"mark": {"type": "point", "filled": true, "size": 55, "opacity": 1},
"encoding": {
"x": {"field": "t", "type": "quantitative", "scale": {"domain": [-1, 24], "nice": false}, "axis": {"orient": "top", "title": "human CSF Aβ1-x", "labels": false, "ticks": false, "domain": false, "titleY": -19.7, "titleBaseline": "alphabetic", "titleFontSize": 17.5}},
"y": {"field": "m", "type": "quantitative", "scale": {"domain": [0, 8000], "nice": false}, "axis": {"orient": "left", "title": "E", "labels": false, "ticks": false, "domain": false, "titleAngle": 0, "titleX": -53.3, "titleY": -30.2, "titleAlign": "left", "titleBaseline": "alphabetic", "titleFontSize": 22}},
"shape": {"condition": {"test": "datum.g == 'placebo'", "value": "triangle-up"}, "value": "triangle-down"}
}}
],
"resolve": {"axis": {"x": "independent", "y": "independent"}}
},
{
"width": 273, "height": 181.5,
"data": {"name": "ts"},
"transform": [{"filter": "datum.p == 'F'"}],
"encoding": {
"x": {"field": "t", "type": "quantitative", "scale": {"domain": [-1, 24], "nice": false}, "axis": {"values": [0, 6, 12, 18, 24], "title": "time post dose (hours)", "titleY": 33, "titleBaseline": "middle"}},
"color": {"field": "g", "type": "nominal", "scale": {"domain": ["BMS-932481 900 mg", "placebo"], "range": ["#e02222", "#4a8b2c"]},
"legend": {"orient": "none", "legendX": 116.7, "legendY": 149.9, "title": null, "symbolSize": 144, "symbolStrokeWidth": 2, "labelOffset": 12.5, "rowPadding": -0.6,
"encoding": {"symbols": {"shape": {"value": {"expr": "datum.value == 'placebo' ? 'M-1.7,0H1.7M-0.57,0.5H0.57L0,-0.55Z' : 'M-1.7,0H1.7M-0.57,-0.5H0.57L0,0.55Z'"}}, "fill": {"value": {"expr": "datum.value == 'placebo' ? '#4a8b2c' : '#e02222'"}}, "stroke": {"value": {"expr": "datum.value == 'placebo' ? '#4a8b2c' : '#e02222'"}}, "strokeWidth": {"value": 2}, "opacity": {"value": 1}}}}
}
},
"layer": [
{"layer": [
{"mark": {"type": "rule", "strokeWidth": 2}, "encoding": {"y": {"field": "lo", "type": "quantitative", "scale": {"domain": [0, 4000], "nice": false}, "axis": {"values": [0, 1000, 2000, 3000, 4000], "format": "d", "title": "sum CSF Aβ1-37/38/40/42 (pM)", "titleX": -44, "titleBaseline": "middle", "titleFontSize": 15}}, "y2": {"field": "hi"}}},
{"mark": {"type": "tick", "orient": "horizontal", "size": 9, "thickness": 2}, "encoding": {"y": {"field": "lo", "type": "quantitative", "scale": {"domain": [0, 4000], "nice": false}, "axis": {"values": [0, 1000, 2000, 3000, 4000], "format": "d", "title": "sum CSF Aβ1-37/38/40/42 (pM)", "titleX": -44, "titleBaseline": "middle", "titleFontSize": 15}}}},
{"mark": {"type": "tick", "orient": "horizontal", "size": 9, "thickness": 2}, "encoding": {"y": {"field": "hi", "type": "quantitative", "scale": {"domain": [0, 4000], "nice": false}, "axis": {"values": [0, 1000, 2000, 3000, 4000], "format": "d", "title": "sum CSF Aβ1-37/38/40/42 (pM)", "titleX": -44, "titleBaseline": "middle", "titleFontSize": 15}}}},
{"mark": {"type": "line", "strokeWidth": 2}, "encoding": {"y": {"field": "m", "type": "quantitative", "scale": {"domain": [0, 4000], "nice": false}, "axis": {"values": [0, 1000, 2000, 3000, 4000], "format": "d", "title": "sum CSF Aβ1-37/38/40/42 (pM)", "titleX": -44, "titleBaseline": "middle", "titleFontSize": 15}}}}
]},
{"mark": {"type": "point", "filled": true, "size": 55, "opacity": 1},
"encoding": {
"x": {"field": "t", "type": "quantitative", "scale": {"domain": [-1, 24], "nice": false}, "axis": {"orient": "top", "title": "sum CSF Aβ1-37/38/40/42", "labels": false, "ticks": false, "domain": false, "titleY": -19.7, "titleBaseline": "alphabetic", "titleFontSize": 17.5}},
"y": {"field": "m", "type": "quantitative", "scale": {"domain": [0, 4000], "nice": false}, "axis": {"orient": "left", "title": "F", "labels": false, "ticks": false, "domain": false, "titleAngle": 0, "titleX": -51, "titleY": -30, "titleAlign": "left", "titleBaseline": "alphabetic", "titleFontSize": 22}},
"shape": {"condition": {"test": "datum.g == 'placebo'", "value": "triangle-up"}, "value": "triangle-down"}
}}
],
"resolve": {"axis": {"x": "independent", "y": "independent"}}
},
{
"width": 263.3, "height": 184,
"data": {"name": "ts"},
"transform": [{"filter": "datum.p == 'G'"}],
"encoding": {
"x": {"field": "t", "type": "quantitative", "scale": {"domain": [-0.21, 24], "nice": false}, "axis": {"values": [0, 6, 12, 18, 24], "title": "time post dose (hours)", "titleY": 33, "titleBaseline": "middle"}},
"color": {"field": "g", "type": "nominal", "scale": {"domain": ["placebo", "BMS-932481 900 mg"], "range": ["#4a8b2c", "#e02222"]},
"legend": {"orient": "none", "legendX": 9.3, "legendY": 142.8, "title": null, "symbolSize": 144, "symbolStrokeWidth": 2, "labelOffset": 12.5, "rowPadding": -0.6,
"encoding": {"symbols": {"shape": {"value": {"expr": "datum.value == 'placebo' ? 'M-1.7,0H1.7M-0.57,0.5H0.57L0,-0.55Z' : 'M-1.7,0H1.7M-0.57,-0.5H0.57L0,0.55Z'"}}, "fill": {"value": {"expr": "datum.value == 'placebo' ? '#4a8b2c' : '#e02222'"}}, "stroke": {"value": {"expr": "datum.value == 'placebo' ? '#4a8b2c' : '#e02222'"}}, "strokeWidth": {"value": 2}, "opacity": {"value": 1}}}}
}
},
"layer": [
{"layer": [
{"mark": {"type": "rule", "strokeWidth": 2}, "encoding": {"y": {"field": "lo", "type": "quantitative", "scale": {"domain": [0, 136], "nice": false}, "axis": {"values": [0, 25, 50, 75, 100, 125], "format": "d", "offset": 9.3, "title": "CSF Aβ1-42/Aβ1-x (%)", "titleX": -38.7, "titleBaseline": "middle", "titleFontSize": 15}}, "y2": {"field": "hi"}}},
{"mark": {"type": "tick", "orient": "horizontal", "size": 9, "thickness": 2}, "encoding": {"y": {"field": "lo", "type": "quantitative", "scale": {"domain": [0, 136], "nice": false}, "axis": {"values": [0, 25, 50, 75, 100, 125], "format": "d", "offset": 9.3, "title": "CSF Aβ1-42/Aβ1-x (%)", "titleX": -38.7, "titleBaseline": "middle", "titleFontSize": 15}}}},
{"mark": {"type": "tick", "orient": "horizontal", "size": 9, "thickness": 2}, "encoding": {"y": {"field": "hi", "type": "quantitative", "scale": {"domain": [0, 136], "nice": false}, "axis": {"values": [0, 25, 50, 75, 100, 125], "format": "d", "offset": 9.3, "title": "CSF Aβ1-42/Aβ1-x (%)", "titleX": -38.7, "titleBaseline": "middle", "titleFontSize": 15}}}},
{"mark": {"type": "line", "strokeWidth": 2}, "encoding": {"y": {"field": "m", "type": "quantitative", "scale": {"domain": [0, 136], "nice": false}, "axis": {"values": [0, 25, 50, 75, 100, 125], "format": "d", "offset": 9.3, "title": "CSF Aβ1-42/Aβ1-x (%)", "titleX": -38.7, "titleBaseline": "middle", "titleFontSize": 15}}}}
]},
{"mark": {"type": "point", "filled": true, "size": 55, "opacity": 1},
"encoding": {
"x": {"field": "t", "type": "quantitative", "scale": {"domain": [-0.21, 24], "nice": false}, "axis": {"orient": "top", "title": "human CSF Aβ1-42/Aβ1-x", "labels": false, "ticks": false, "domain": false, "titleY": -21.2, "titleBaseline": "alphabetic", "titleFontSize": 17.5}},
"y": {"field": "m", "type": "quantitative", "scale": {"domain": [0, 136], "nice": false}, "axis": {"orient": "left", "title": "G", "labels": false, "ticks": false, "domain": false, "titleAngle": 0, "titleX": -52.7, "titleY": -20.2, "titleAlign": "left", "titleBaseline": "alphabetic", "titleFontSize": 22}},
"shape": {"condition": {"test": "datum.g == 'placebo'", "value": "triangle-up"}, "value": "triangle-down"}
}}
],
"resolve": {"axis": {"x": "independent", "y": "independent"}}
},
{
"width": 282, "height": 187,
"layer": [
{"data": {"name": "h"},
"mark": {"type": "point", "filled": true, "size": 22, "opacity": 1},
"encoding": {
"x": {"field": "x", "type": "quantitative", "scale": {"domain": [0, 300], "nice": false}, "axis": {"values": [0, 100, 200, 300], "title": "CSF Aβ1-42 (%)", "titleFontSize": 19, "labelFontSize": 14, "titleY": 36, "titleBaseline": "middle"}},
"y": {"field": "y", "type": "quantitative", "scale": {"domain": [0, 300], "nice": false}, "axis": {"values": [0, 100, 200, 300], "title": "CSF Aβ1-40 (%)", "titleFontSize": 20, "labelFontSize": 14, "titleX": -43.6, "titleBaseline": "middle"}},
"color": {"field": "g", "type": "nominal", "scale": {"domain": ["placebo", "BMS-932481 900 mg"], "range": ["#4a8b2c", "#e02222"]}, "legend": {"orient": "none", "legendX": 117, "legendY": 143, "title": null, "labelFontSize": 14, "labelOffset": 16, "rowPadding": 6, "symbolSize": 22}},
"shape": {"field": "g", "type": "nominal", "scale": {"domain": ["placebo", "BMS-932481 900 mg"], "range": ["circle", "triangle-up"]}, "legend": {"orient": "none", "legendX": 117, "legendY": 143, "title": null, "labelFontSize": 14, "labelOffset": 16, "rowPadding": 6, "symbolSize": 22}}
}},
{"data": {"name": "hl"},
"mark": {"type": "rule", "strokeWidth": 2, "color": "black"},
"encoding": {
"x": {"field": "x", "type": "quantitative", "scale": {"domain": [0, 300], "nice": false}, "axis": {"orient": "top", "title": "human Aβ1-40 vs. Aβ1-42", "labels": false, "ticks": false, "domain": false, "titleY": -21.2, "titleBaseline": "alphabetic", "titleFontSize": 17.5}},
"x2": {"field": "x2"},
"y": {"field": "y", "type": "quantitative", "scale": {"domain": [0, 300], "nice": false}, "axis": {"orient": "left", "title": "H", "labels": false, "ticks": false, "domain": false, "titleAngle": 0, "titleX": -53.3, "titleY": -20.2, "titleAlign": "left", "titleBaseline": "alphabetic", "titleFontSize": 22}},
"y2": {"field": "y2"}
}}
],
"resolve": {"axis": {"x": "independent", "y": "independent"}}
}
],
"resolve": {"scale": {"x": "independent", "y": "independent", "color": "independent", "shape": "independent"}, "legend": {"color": "independent", "shape": "independent"}},
"config": {
"font": "Liberation Sans",
"view": {"stroke": null},
"axis": {"grid": false, "labelFontSize": 13, "labelFontWeight": "bold", "labelColor": "#000", "titleFontSize": 15, "titleFontWeight": "bold", "titleColor": "#000", "domainColor": "#000", "domainWidth": 2, "tickColor": "#000", "tickWidth": 2, "tickSize": 5, "labelPadding": 2, "labelFlush": false, "labelOverlap": false},
"legend": {"labelFontSize": 13, "labelFontWeight": "bold", "labelColor": "#000", "padding": 0, "rowPadding": -0.6}
}
}
